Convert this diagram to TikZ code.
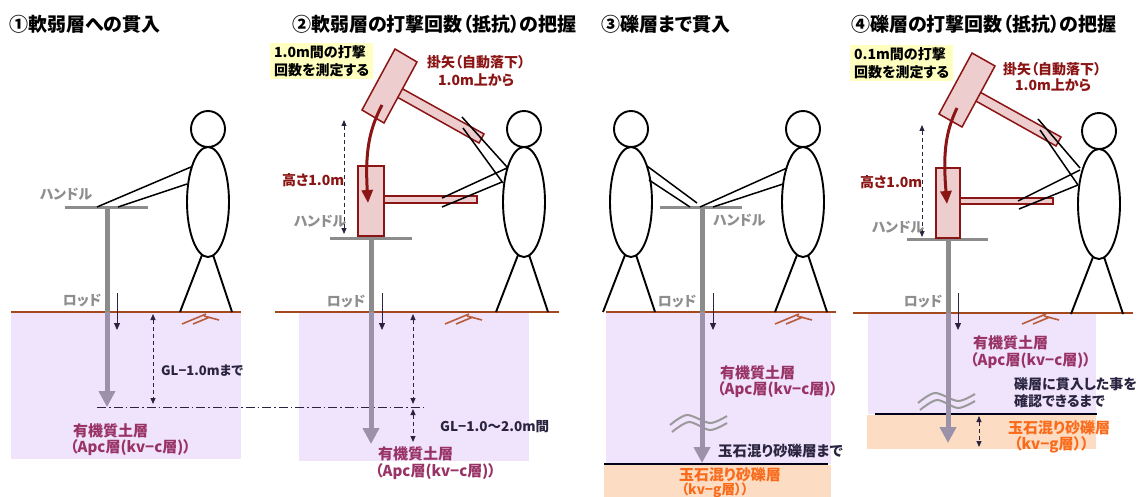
\documentclass[tikz,border=0pt]{standalone}
\usepackage{fontspec}
\newfontfamily\jp{Noto Sans CJK JP}[RawFeature=+palt]
\usetikzlibrary{arrows.meta}

\definecolor{rodgray}{HTML}{8C8C8C}
\definecolor{rodsoil}{HTML}{9B91A8}
\definecolor{soil}{HTML}{EFE4FB}
\definecolor{gravel}{HTML}{FCDCC2}
\definecolor{groundbrown}{HTML}{A4481E}
\definecolor{grassbrown}{HTML}{B85C3C}
\definecolor{navy}{HTML}{2B2440}
\definecolor{hammerred}{HTML}{8B1414}
\definecolor{hammerfill}{HTML}{EDCDCE}
\definecolor{layertext}{HTML}{993366}
\definecolor{graveltext}{HTML}{F96B1B}
\definecolor{labelgray}{HTML}{8E8E8E}
\definecolor{notefill}{HTML}{FFFFC0}
\definecolor{breakgray}{HTML}{9A9A9A}

\tikzset{
  figline/.style={draw=black, line width=1.9pt},
  armline/.style={draw=black, line width=1.5pt},
  person/.pic={
    \draw[figline] (0,-73) circle [x radius=17, y radius=18];
    \draw[figline] (0,0) ellipse [x radius=21, y radius=55];
    \draw[figline] (-6,53) -- (-28,110) (5,53) -- (24,110);
  },
  grassmark/.pic={
    \draw[draw=grassbrown, line width=1.6pt] (0,0) -- (24,-10) (11,0) -- (28,-7) (22,-8) -- (37,-4);
  },
  breakmark/.pic={
    \draw[breakgray, line width=2pt] plot[smooth] coordinates {(0,0) (17,-10) (40,-2) (57,-9)};
    \draw[breakgray, line width=2pt] plot[smooth] coordinates {(2,7) (19,-3) (40,5) (57,-2)};
  },
  title/.style={font=\jp\bfseries\fontsize{19}{22}\selectfont, anchor=west, inner sep=0pt},
  note/.style={fill=notefill, font=\jp\bfseries\fontsize{14}{18}\selectfont, align=left, anchor=north west, inner xsep=4pt, inner ysep=2pt},
  partlbl/.style={text=labelgray, font=\jp\bfseries\fontsize{14}{16}\selectfont, inner sep=0pt},
  redlbl/.style={text=hammerred, font=\jp\bfseries\fontsize{14}{16}\selectfont, anchor=west, inner sep=0pt},
  depthlbl/.style={text=navy, font=\jp\bfseries\fontsize{13}{15}\selectfont, anchor=west, inner sep=0pt},
  layerlbl/.style={text=layertext, font=\jp\bfseries\fontsize{15}{17}\selectfont, anchor=west, inner sep=0pt},
  gravellbl/.style={text=graveltext, font=\jp\bfseries\fontsize{15}{17}\selectfont, inner sep=0pt},
  groundline/.style={draw=groundbrown, line width=2pt},
  baseline/.style={draw=black!90!blue, line width=2pt},
  handlebar/.style={draw=rodgray, line width=3pt},
  rodup/.style={draw=rodgray, line width=5pt},
  roddown/.style={draw=rodsoil, line width=5pt, -{Triangle[length=16pt,width=16pt]}},
  movearrow/.style={draw=navy, line width=1pt, -{Triangle[length=7pt,width=6pt]}},
  dimarrow/.style={draw=navy, line width=1pt, dash pattern=on 4pt off 3pt,
    {Triangle[length=6pt,width=5pt]}-{Triangle[length=6pt,width=5pt]}},
  hammerpart/.style={draw=hammerred, fill=hammerfill, line width=1.5pt},
  droparrow/.style={draw=hammerred, line width=3pt, -{Triangle[length=13pt,width=11pt]}},
  refline/.style={draw=navy, line width=0.9pt, dash pattern=on 9pt off 3pt on 1.5pt off 3pt},
}

\begin{document}
\begin{tikzpicture}[x=1pt, y=-1pt]
\path[use as bounding box, fill=white] (0,0) rectangle (1142,497);

% ---------- soil layers ----------
\fill[soil] (11,312) rectangle (241,459);
\fill[soil] (299,312) rectangle (529,461);
\fill[soil] (606,312) rectangle (831,464);
\fill[gravel] (604,465) rectangle (831,497);
\fill[soil] (868,313) rectangle (1096,414);
\fill[gravel] (867,415) rectangle (1096,449);

\draw[groundline] (11,312) -- (241,312);
\draw[groundline] (275,312) -- (559,312);
\draw[groundline] (606,312) -- (836,312);
\draw[groundline] (853,313) -- (1133,313);

\draw[baseline] (604,464) -- (828,464);
\draw[baseline] (875,414) -- (1097,414);

\pic at (182,324) {grassmark};
\pic at (445,324) {grassmark};
\pic at (775,324) {grassmark};
\pic at (1022,324) {grassmark};

\pic at (670,425) {breakmark};
\pic at (918,403) {breakmark};

% ---------- reference depth line ----------
\coordinate (refA) at (97,407);
\coordinate (refB) at (423,407);
\draw[refline] (refA) -- (refB);

% ---------- rods and handles ----------
\coordinate (h1) at (107,207);  \coordinate (g1) at (107,312);  \coordinate (t1) at (107,407);
\coordinate (h2) at (371,238);  \coordinate (g2) at (371,312);  \coordinate (t2) at (371,444);
\coordinate (h3) at (702,207);  \coordinate (g3) at (702,312);  \coordinate (t3) at (702,463);
\coordinate (h4) at (948,239);  \coordinate (g4) at (948,313);  \coordinate (t4) at (948,443);
\foreach \i in {1,2,3,4} {
  \draw[rodup] (h\i) -- (g\i);
  \draw[roddown] (g\i) -- (t\i);
}
\draw[handlebar] (65,207) -- (148,207);
\draw[handlebar] (330,238) -- (412,238);
\draw[handlebar] (660,207) -- (742,207);
\draw[handlebar] (907,239) -- (988,239);

% ---------- hammers (raised and dropped) ----------
\draw[hammerpart] (401,88) -- (484,134) -- (479,143) -- (397,97) -- cycle;
\draw[hammerpart] (395,49) -- (417,62) -- (384,123) -- (362,110) -- cycle;
\draw[hammerpart] (384,196) rectangle (477,203);
\draw[hammerpart] (358,166) rectangle (384,236);
\draw[droparrow] (382,105) .. controls (369,130) and (365,152) .. (368,203);

\draw[hammerpart] (978,91) -- (1061,137) -- (1056,146) -- (974,100) -- cycle;
\draw[hammerpart] (972,53) -- (995,66) -- (962,127) -- (939,114) -- cycle;
\draw[hammerpart] (960,198) rectangle (1053,204);
\draw[hammerpart] (936,168) rectangle (960,238);
\draw[droparrow] (957,108) .. controls (945,133) and (943,155) .. (947,204);

% ---------- rod movement arrows ----------
\foreach \x in {117,382,713,958} {
  \draw[movearrow] (\x,293) -- (\x,330);
}

% ---------- dimension arrows ----------
\draw[dimarrow] (153,314) -- (153,404);
\draw[dimarrow] (413,314) -- (413,404);
\draw[dimarrow] (413,409) -- (413,442);
\draw[dimarrow] (344,120) -- (344,234);
\draw[dimarrow] (922,125) -- (922,237);
\draw[dimarrow] (979,416) -- (979,447);

% ---------- operators ----------
\pic at (208,202) {person};
\pic at (524,202) {person};
\pic at (631,202) {person};
\pic at (803,202) {person};
\pic at (1099,204) {person};

\draw[armline] (191,167) -- (97,207) (187,184) -- (118,207);
\draw[armline] (507,167) -- (462,117) (503,183) -- (463,128)
               (507,168) -- (442,198) (502,182) -- (442,207);
\draw[armline] (647,166) -- (697,203) (649,180) -- (690,207)
               (787,168) -- (700,207) (783,184) -- (713,207);
\draw[armline] (1080,168) -- (1038,119) (1078,185) -- (1040,130)
               (1080,170) -- (1018,201) (1078,185) -- (1019,209);

% ---------- titles ----------
\node[title] (title1) at (9,24) {①軟弱層への貫入};
\node[title] (title2) at (292,24) {②軟弱層の打撃回数（抵抗）の把握};
\node[title] (title3) at (601,24) {③礫層まで貫入};
\node[title] (title4) at (851,24) {④礫層の打撃回数（抵抗）の把握};

% ---------- panel 1 labels ----------
\node[partlbl] (handle1) at (66,194) {ハンドル};
\node[partlbl] (rodlbl1) at (82,301) {ロッド};
\node[depthlbl] (depth1) at (161,371) {GL−1.0mまで};
\node[layerlbl] (layer1a) at (73,431) {有機質土層};
\node[layerlbl] (layer1b) at (70,448) {（Apc層(kv−c層)）};

% ---------- panel 2 labels ----------
\node[note] (note2) at (270,43) {1.0m間の打撃\\回数を測定する};
\node[redlbl] (kakeya2) at (427,62) {掛矢（自動落下）};
\node[redlbl] (from2) at (438,80) {1.0m上から};
\node[redlbl] (height2) at (282,180) {高さ1.0m};
\node[partlbl] (handle2) at (320,221) {ハンドル};
\node[partlbl] (rodlbl2) at (346,302) {ロッド};
\node[depthlbl, font=\jp\bfseries\fontsize{13.5}{15}\selectfont] (depth2) at (440,427) {GL−1.0～2.0m間};
\node[layerlbl] (layer2a) at (378,454) {有機質土層};
\node[layerlbl] (layer2b) at (375,472) {（Apc層(kv−c層)）};

% ---------- panel 3 labels ----------
\node[partlbl, anchor=west] (handle3) at (713,220) {ハンドル};
\node[partlbl] (rodlbl3) at (677,302) {ロッド};
\node[layerlbl] (layer3a) at (720,373) {有機質土層};
\node[layerlbl] (layer3b) at (717,390) {（Apc層(kv−c層)）};
\node[depthlbl, font=\jp\bfseries\fontsize{14.5}{16}\selectfont] (depth3) at (718,451) {玉石混り砂礫層まで};
\node[gravellbl] (gravel3a) at (730,475) {玉石混り砂礫層};
\node[gravellbl, font=\jp\bfseries\fontsize{13.5}{15}\selectfont] (gravel3b) at (715,490) {（kv−g層））};

% ---------- panel 4 labels ----------
\node[note] (note4) at (850,45) {0.1m間の打撃\\回数を測定する};
\node[redlbl] (kakeya4) at (1003,69) {掛矢（自動落下）};
\node[redlbl] (from4) at (1015,85) {1.0m上から};
\node[redlbl] (height4) at (860,182) {高さ1.0m};
\node[partlbl] (handle4) at (898,227) {ハンドル};
\node[partlbl] (rodlbl4) at (923,302) {ロッド};
\node[layerlbl] (layer4a) at (973,343) {有機質土層};
\node[layerlbl] (layer4b) at (970,361) {（Apc層(kv−c層)）};
\node[depthlbl, font=\jp\bfseries\fontsize{14}{17}\selectfont, align=left] (depth4) at (1014,393) {礫層に貫入した事を\\確認できるまで};
\node[gravellbl, anchor=west] (gravel4a) at (1008,428) {玉石混り砂礫層};
\node[gravellbl, anchor=west] (gravel4b) at (1014,445) {（kv−g層））};
\end{tikzpicture}
\end{document}
